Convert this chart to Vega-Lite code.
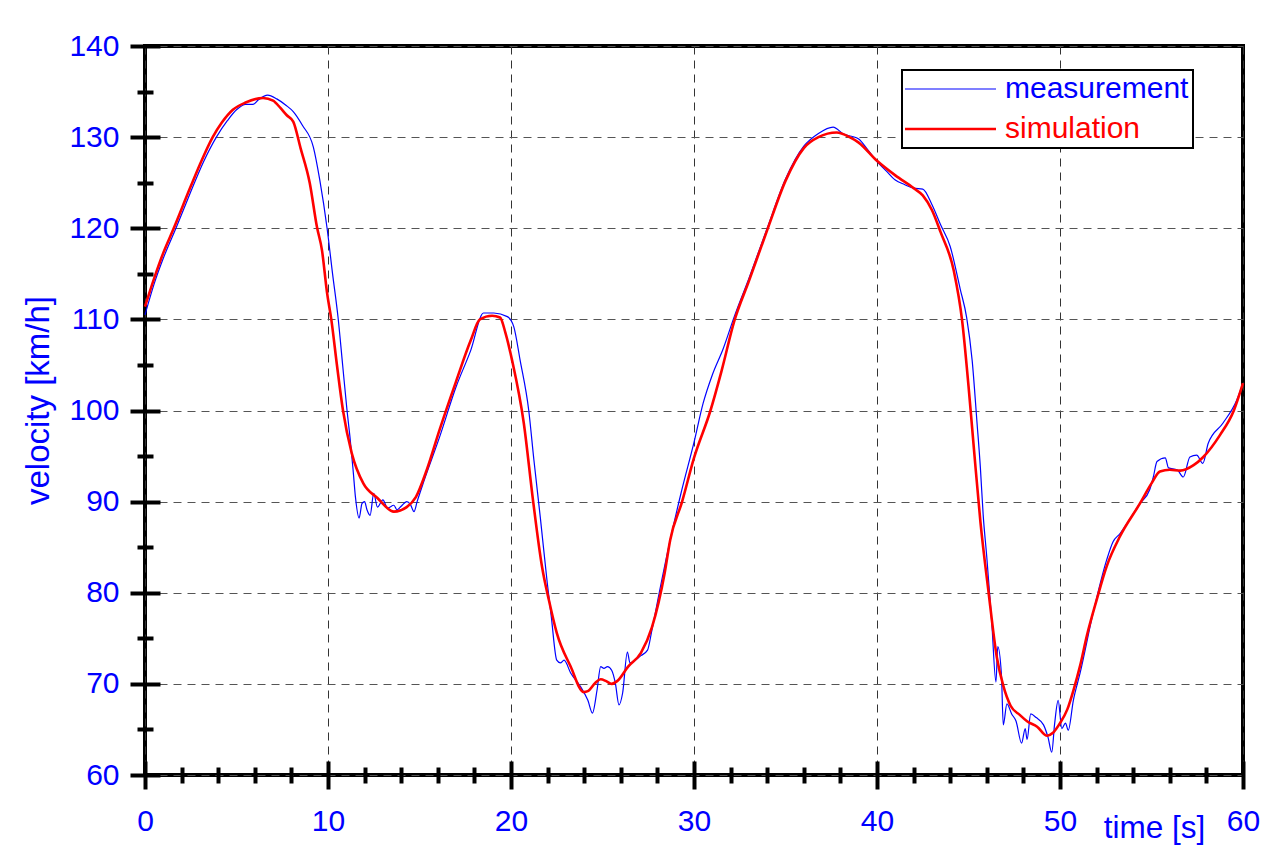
{
  "$schema": "https://vega.github.io/schema/vega-lite/v6.json",
  "autosize": {"type": "none"},
  "width": 1098,
  "height": 729,
  "padding": {"left": 145, "top": 46, "right": 41, "bottom": 86},
  "background": "white",
  "config": {
    "view": {"stroke": "black", "strokeWidth": 4},
    "font": "Liberation Sans"
  },
  "datasets": {
    "curves": [
      {"s":"measurement","t":0,"v":110.5},{"s":"measurement","t":0.5,"v":113.9},{"s":"measurement","t":1.0,"v":116.7},{"s":"measurement","t":1.73,"v":120.2},{"s":"measurement","t":2.5,"v":124.0},{"s":"measurement","t":3.2,"v":127.3},{"s":"measurement","t":3.9,"v":130.0},{"s":"measurement","t":4.5,"v":131.8},{"s":"measurement","t":5.0,"v":133.0},{"s":"measurement","t":5.5,"v":133.6},{"s":"measurement","t":5.9,"v":133.6},{"s":"measurement","t":6.2,"v":134.1},{"s":"measurement","t":6.7,"v":134.6},{"s":"measurement","t":7.2,"v":134.2},{"s":"measurement","t":7.7,"v":133.5},{"s":"measurement","t":8.1,"v":132.8},{"s":"measurement","t":8.6,"v":131.3},{"s":"measurement","t":9.2,"v":128.9},{"s":"measurement","t":9.55,"v":125.3},{"s":"measurement","t":9.95,"v":120.0},{"s":"measurement","t":10.25,"v":115.0},{"s":"measurement","t":10.55,"v":110.2},{"s":"measurement","t":10.8,"v":105.0},{"s":"measurement","t":11.04,"v":100.0},{"s":"measurement","t":11.2,"v":97.1},{"s":"measurement","t":11.37,"v":93.5},{"s":"measurement","t":11.5,"v":90.5},{"s":"measurement","t":11.7,"v":88.2},{"s":"measurement","t":11.86,"v":89.8},{"s":"measurement","t":12.0,"v":90.0},{"s":"measurement","t":12.13,"v":89.1},{"s":"measurement","t":12.3,"v":88.5},{"s":"measurement","t":12.5,"v":90.9},{"s":"measurement","t":12.7,"v":89.4},{"s":"measurement","t":13.0,"v":90.2},{"s":"measurement","t":13.25,"v":89.3},{"s":"measurement","t":13.6,"v":89.6},{"s":"measurement","t":13.77,"v":89.1},{"s":"measurement","t":14.0,"v":89.5},{"s":"measurement","t":14.3,"v":90.0},{"s":"measurement","t":14.5,"v":89.7},{"s":"measurement","t":14.7,"v":88.9},{"s":"measurement","t":14.87,"v":90.0},{"s":"measurement","t":15.2,"v":92.0},{"s":"measurement","t":16.1,"v":97.1},{"s":"measurement","t":17.0,"v":102.6},{"s":"measurement","t":17.8,"v":106.6},{"s":"measurement","t":18.5,"v":110.7},{"s":"measurement","t":19.06,"v":110.7},{"s":"measurement","t":19.8,"v":110.3},{"s":"measurement","t":20.15,"v":109.2},{"s":"measurement","t":20.5,"v":105.5},{"s":"measurement","t":20.97,"v":100.0},{"s":"measurement","t":21.25,"v":94.6},{"s":"measurement","t":21.6,"v":88.3},{"s":"measurement","t":21.98,"v":81.1},{"s":"measurement","t":22.2,"v":77.4},{"s":"measurement","t":22.5,"v":72.6},{"s":"measurement","t":22.7,"v":72.3},{"s":"measurement","t":22.9,"v":72.6},{"s":"measurement","t":23.26,"v":71.2},{"s":"measurement","t":23.8,"v":69.7},{"s":"measurement","t":24.2,"v":68.2},{"s":"measurement","t":24.45,"v":66.8},{"s":"measurement","t":24.7,"v":69.3},{"s":"measurement","t":24.9,"v":71.9},{"s":"measurement","t":25.08,"v":71.7},{"s":"measurement","t":25.27,"v":71.9},{"s":"measurement","t":25.5,"v":71.5},{"s":"measurement","t":25.7,"v":70.1},{"s":"measurement","t":25.9,"v":67.7},{"s":"measurement","t":26.1,"v":69.0},{"s":"measurement","t":26.36,"v":73.5},{"s":"measurement","t":26.5,"v":72.3},{"s":"measurement","t":27.1,"v":73.1},{"s":"measurement","t":27.46,"v":73.7},{"s":"measurement","t":27.7,"v":75.9},{"s":"measurement","t":28.1,"v":80.0},{"s":"measurement","t":28.7,"v":85.8},{"s":"measurement","t":29.3,"v":91.0},{"s":"measurement","t":30.0,"v":96.5},{"s":"measurement","t":30.5,"v":100.8},{"s":"measurement","t":31.0,"v":103.9},{"s":"measurement","t":31.6,"v":106.8},{"s":"measurement","t":32.2,"v":110.3},{"s":"measurement","t":33.0,"v":114.5},{"s":"measurement","t":34.0,"v":120.0},{"s":"measurement","t":35.0,"v":125.4},{"s":"measurement","t":36.0,"v":129.0},{"s":"measurement","t":36.8,"v":130.4},{"s":"measurement","t":37.6,"v":131.1},{"s":"measurement","t":38.2,"v":130.3},{"s":"measurement","t":38.6,"v":130.1},{"s":"measurement","t":39.0,"v":129.8},{"s":"measurement","t":39.5,"v":128.6},{"s":"measurement","t":40.0,"v":127.3},{"s":"measurement","t":40.5,"v":126.3},{"s":"measurement","t":41.0,"v":125.3},{"s":"measurement","t":41.5,"v":124.8},{"s":"measurement","t":42.0,"v":124.4},{"s":"measurement","t":42.5,"v":124.3},{"s":"measurement","t":43.0,"v":122.6},{"s":"measurement","t":43.47,"v":120.4},{"s":"measurement","t":44.0,"v":118.0},{"s":"measurement","t":44.55,"v":113.3},{"s":"measurement","t":44.9,"v":110.2},{"s":"measurement","t":45.2,"v":105.5},{"s":"measurement","t":45.46,"v":98.8},{"s":"measurement","t":45.65,"v":93.7},{"s":"measurement","t":45.8,"v":88.6},{"s":"measurement","t":46.0,"v":83.9},{"s":"measurement","t":46.27,"v":76.8},{"s":"measurement","t":46.5,"v":70.2},{"s":"measurement","t":46.6,"v":74.1},{"s":"measurement","t":46.8,"v":71.0},{"s":"measurement","t":46.9,"v":65.5},{"s":"measurement","t":47.1,"v":67.8},{"s":"measurement","t":47.36,"v":66.7},{"s":"measurement","t":47.6,"v":65.9},{"s":"measurement","t":47.9,"v":63.5},{"s":"measurement","t":48.1,"v":65.1},{"s":"measurement","t":48.2,"v":63.9},{"s":"measurement","t":48.4,"v":66.7},{"s":"measurement","t":48.7,"v":66.3},{"s":"measurement","t":49.1,"v":65.5},{"s":"measurement","t":49.35,"v":64.1},{"s":"measurement","t":49.55,"v":62.5},{"s":"measurement","t":49.7,"v":65.5},{"s":"measurement","t":49.9,"v":68.2},{"s":"measurement","t":50.1,"v":65.1},{"s":"measurement","t":50.3,"v":65.7},{"s":"measurement","t":50.45,"v":64.9},{"s":"measurement","t":50.73,"v":68.2},{"s":"measurement","t":51.1,"v":71.2},{"s":"measurement","t":51.8,"v":77.7},{"s":"measurement","t":52.55,"v":83.6},{"s":"measurement","t":52.9,"v":85.6},{"s":"measurement","t":53.28,"v":86.5},{"s":"measurement","t":54.37,"v":89.8},{"s":"measurement","t":54.9,"v":91.3},{"s":"measurement","t":55.1,"v":92.7},{"s":"measurement","t":55.3,"v":94.4},{"s":"measurement","t":55.75,"v":94.8},{"s":"measurement","t":55.93,"v":93.7},{"s":"measurement","t":56.4,"v":93.5},{"s":"measurement","t":56.74,"v":92.7},{"s":"measurement","t":57.1,"v":94.9},{"s":"measurement","t":57.47,"v":95.1},{"s":"measurement","t":57.8,"v":94.2},{"s":"measurement","t":58.1,"v":96.4},{"s":"measurement","t":58.9,"v":98.6},{"s":"measurement","t":59.65,"v":101.1},{"s":"measurement","t":60.0,"v":103.0},
      {"s":"simulation","t":0,"v":111.4},{"s":"simulation","t":0.5,"v":114.5},{"s":"simulation","t":1.0,"v":117.3},{"s":"simulation","t":1.53,"v":119.8},{"s":"simulation","t":2.5,"v":124.6},{"s":"simulation","t":3.0,"v":127.0},{"s":"simulation","t":3.7,"v":130.0},{"s":"simulation","t":4.2,"v":131.6},{"s":"simulation","t":4.8,"v":133.0},{"s":"simulation","t":5.5,"v":133.8},{"s":"simulation","t":6.45,"v":134.3},{"s":"simulation","t":7.0,"v":134.0},{"s":"simulation","t":7.4,"v":133.2},{"s":"simulation","t":7.75,"v":132.4},{"s":"simulation","t":8.1,"v":131.7},{"s":"simulation","t":8.5,"v":128.8},{"s":"simulation","t":9.0,"v":125.0},{"s":"simulation","t":9.4,"v":120.1},{"s":"simulation","t":9.67,"v":117.6},{"s":"simulation","t":9.95,"v":112.9},{"s":"simulation","t":10.18,"v":110.0},{"s":"simulation","t":10.5,"v":104.8},{"s":"simulation","t":10.82,"v":100.0},{"s":"simulation","t":11.3,"v":95.3},{"s":"simulation","t":11.93,"v":92.0},{"s":"simulation","t":12.7,"v":90.4},{"s":"simulation","t":13.6,"v":88.9},{"s":"simulation","t":14.3,"v":89.4},{"s":"simulation","t":14.8,"v":90.5},{"s":"simulation","t":15.4,"v":93.5},{"s":"simulation","t":16.1,"v":97.9},{"s":"simulation","t":17.0,"v":103.2},{"s":"simulation","t":17.8,"v":107.7},{"s":"simulation","t":18.3,"v":110.0},{"s":"simulation","t":18.97,"v":110.4},{"s":"simulation","t":19.4,"v":110.2},{"s":"simulation","t":19.7,"v":108.5},{"s":"simulation","t":20.06,"v":105.5},{"s":"simulation","t":20.7,"v":98.6},{"s":"simulation","t":21.2,"v":90.2},{"s":"simulation","t":21.7,"v":82.8},{"s":"simulation","t":22.07,"v":79.2},{"s":"simulation","t":22.5,"v":75.6},{"s":"simulation","t":23.26,"v":71.9},{"s":"simulation","t":23.97,"v":69.1},{"s":"simulation","t":24.2,"v":69.2},{"s":"simulation","t":24.6,"v":70.1},{"s":"simulation","t":24.9,"v":70.5},{"s":"simulation","t":25.2,"v":70.3},{"s":"simulation","t":25.5,"v":70.0},{"s":"simulation","t":25.8,"v":70.3},{"s":"simulation","t":26.4,"v":71.9},{"s":"simulation","t":27.1,"v":73.4},{"s":"simulation","t":27.7,"v":76.2},{"s":"simulation","t":28.4,"v":82.2},{"s":"simulation","t":28.7,"v":85.8},{"s":"simulation","t":29.35,"v":90.0},{"s":"simulation","t":30.0,"v":94.8},{"s":"simulation","t":30.9,"v":100.0},{"s":"simulation","t":31.5,"v":104.3},{"s":"simulation","t":32.2,"v":109.8},{"s":"simulation","t":33.0,"v":114.2},{"s":"simulation","t":34.0,"v":119.8},{"s":"simulation","t":35.0,"v":125.2},{"s":"simulation","t":36.0,"v":128.8},{"s":"simulation","t":36.8,"v":130.0},{"s":"simulation","t":37.8,"v":130.5},{"s":"simulation","t":38.5,"v":130.0},{"s":"simulation","t":39.0,"v":129.4},{"s":"simulation","t":40.0,"v":127.4},{"s":"simulation","t":41.0,"v":125.8},{"s":"simulation","t":42.0,"v":124.4},{"s":"simulation","t":42.5,"v":123.6},{"s":"simulation","t":43.0,"v":122.0},{"s":"simulation","t":43.47,"v":119.6},{"s":"simulation","t":44.2,"v":115.3},{"s":"simulation","t":44.65,"v":109.9},{"s":"simulation","t":45.0,"v":102.7},{"s":"simulation","t":45.3,"v":95.7},{"s":"simulation","t":45.65,"v":87.8},{"s":"simulation","t":46.1,"v":80.0},{"s":"simulation","t":46.55,"v":72.9},{"s":"simulation","t":46.9,"v":69.8},{"s":"simulation","t":47.3,"v":67.6},{"s":"simulation","t":47.8,"v":66.6},{"s":"simulation","t":48.2,"v":65.9},{"s":"simulation","t":48.75,"v":65.3},{"s":"simulation","t":49.3,"v":64.3},{"s":"simulation","t":49.6,"v":64.6},{"s":"simulation","t":50.0,"v":65.7},{"s":"simulation","t":50.4,"v":67.2},{"s":"simulation","t":50.75,"v":69.4},{"s":"simulation","t":51.1,"v":72.0},{"s":"simulation","t":51.47,"v":75.3},{"s":"simulation","t":52.0,"v":79.2},{"s":"simulation","t":52.55,"v":82.9},{"s":"simulation","t":53.28,"v":86.2},{"s":"simulation","t":54.37,"v":89.8},{"s":"simulation","t":55.0,"v":92.0},{"s":"simulation","t":55.46,"v":93.3},{"s":"simulation","t":56.0,"v":93.5},{"s":"simulation","t":56.56,"v":93.4},{"s":"simulation","t":57.3,"v":94.0},{"s":"simulation","t":57.83,"v":94.9},{"s":"simulation","t":58.74,"v":97.3},{"s":"simulation","t":59.5,"v":100.0},{"s":"simulation","t":60.0,"v":103.0}
    ]
  },
  "data": {"name": "curves"},
  "layer": [
    {
      "mark": {"type": "line", "strokeJoin": "round", "interpolate": "monotone"},
      "encoding": {
        "x": {
          "field": "t", "type": "quantitative",
          "scale": {"domain": [0, 60], "nice": false, "zero": false},
          "axis": {
            "orient": "bottom", "values": [0, 10, 20, 30, 40, 50, 60],
            "offset": -14, "tickSize": 28, "tickWidth": 4, "tickColor": "black",
            "domain": false, "grid": true, "gridDash": [8, 6], "gridColor": "#333333", "gridWidth": 1,
            "labelColor": "#0000ff", "labelFont": "Liberation Sans", "labelFontSize": 30,
            "labelPadding": 17, "labelFlush": false, "labelOverlap": false,
            "title": "time [s]", "titleColor": "#0000ff", "titleFont": "Liberation Sans",
            "titleFontSize": 31.5, "titleFontWeight": "normal",
            "titleX": 1009, "titleY": 76, "titleAlign": "center", "titleBaseline": "alphabetic"
          }
        },
        "y": {
          "field": "v", "type": "quantitative",
          "scale": {"domain": [60, 140], "nice": false, "zero": false},
          "axis": {
            "orient": "left", "values": [60, 70, 80, 90, 100, 110, 120, 130, 140],
            "offset": -15, "tickSize": 30, "tickWidth": 4, "tickColor": "black",
            "domain": false, "grid": true, "gridDash": [8, 6], "gridColor": "#555555", "gridWidth": 1,
            "labelColor": "#0000ff", "labelFont": "Liberation Sans", "labelFontSize": 30,
            "labelPadding": 11, "labelFlush": false, "labelOverlap": false,
            "title": "velocity [km/h]", "titleColor": "#0000ff", "titleFont": "Liberation Sans",
            "titleFontSize": 33, "titleFontWeight": "normal", "titleAngle": -90,
            "titleX": -122, "titleY": 354, "titleAlign": "center", "titleBaseline": "middle"
          }
        },
        "color": {
          "field": "s", "type": "nominal",
          "scale": {"domain": ["measurement", "simulation"], "range": ["#0000ff", "#ff0000"]},
          "legend": {
            "orient": "none", "legendX": 757, "legendY": 24, "title": null,
            "symbolType": "M-3.2,0H15", "symbolSize": 100,
            "labelFont": "Liberation Sans", "labelFontSize": 30, "labelOffset": 69, "labelLimit": 600,
            "rowPadding": 10, "padding": 4,
            "strokeColor": "black", "fillColor": "white",
            "encode": {
              "legend": {"update": {"strokeWidth": {"value": 2}}},
              "labels": {"update": {"fill": {"scale": "color", "field": "value"}}},
              "symbols": {"update": {
                "strokeWidth": {"signal": "datum.value === 'simulation' ? 2.6 : 1.2"},
                "fill": {"value": "transparent"}
              }}
            }
          }
        },
        "strokeWidth": {"condition": {"test": "datum.s === 'simulation'", "value": 2.6}, "value": 1.2}
      }
    },
    {
      "mark": {"type": "line", "strokeOpacity": 0},
      "encoding": {
        "x": {
          "field": "t", "type": "quantitative",
          "axis": {
            "orient": "bottom",
            "values": [2, 4, 6, 8, 12, 14, 16, 18, 22, 24, 26, 28, 32, 34, 36, 38, 42, 44, 46, 48, 52, 54, 56, 58],
            "offset": -8, "tickSize": 16, "tickWidth": 4, "tickColor": "black",
            "domain": false, "grid": false, "labels": false, "title": null
          }
        },
        "y": {
          "field": "v", "type": "quantitative",
          "axis": {
            "orient": "left",
            "values": [65, 75, 85, 95, 105, 115, 125, 135],
            "offset": -8, "tickSize": 16, "tickWidth": 4, "tickColor": "black",
            "domain": false, "grid": false, "labels": false, "title": null
          }
        },
        "detail": {"field": "s", "type": "nominal"}
      }
    }
  ],
  "resolve": {"axis": {"x": "independent", "y": "independent"}}
}
